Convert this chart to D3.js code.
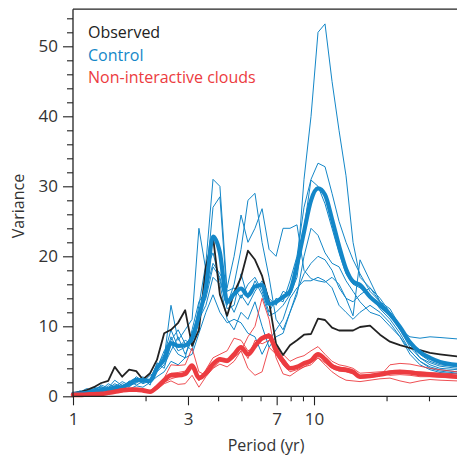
<!DOCTYPE html>
<html>
<head>
<meta charset="utf-8">
<script src="https://cdn.jsdelivr.net/npm/d3@7/dist/d3.min.js"></script>
<style>
  body { margin: 0; background: #fff; }
  text { font-family: "Open Sans", "Noto Sans", sans-serif; }
</style>
</head>
<body>
<div id="chart"></div>
<script>
// period grid (yr)
var periods = [1.00, 1.07, 1.14, 1.22, 1.31, 1.40, 1.49, 1.60, 1.71, 1.83, 1.95, 2.09, 2.23, 2.39, 2.55, 2.73,
  2.92, 3.12, 3.33, 3.56, 3.81, 4.07, 4.36, 4.66, 4.98, 5.32, 5.69, 6.09, 6.51, 6.96, 7.44, 7.95, 8.50, 9.09,
  9.72, 10.39, 11.11, 11.88, 12.70, 13.58, 14.52, 15.52, 17.08, 18.79, 20.67, 22.74, 25.02, 27.53, 30.29, 33.32, 39.22];

var observed = [0.5, 0.6, 0.9, 1.3, 1.9, 2.2, 4.2, 2.8, 3.8, 3.6, 2.4, 3.3, 5.2, 9.0, 9.5, 10.5,
  12.3, 7.2, 9.5, 18.5, 22.8, 14.5, 11.5, 14.8, 17.0, 20.8, 19.5, 17.2, 13.5, 7.5, 5.9, 7.3, 8.0, 8.8,
  8.9, 11.1, 10.9, 9.8, 9.4, 9.4, 9.4, 9.9, 10.1, 8.8, 7.8, 7.3, 6.9, 6.6, 6.2, 6.0, 5.7];

var controlMean = [0.3, 0.4, 0.5, 0.7, 0.9, 1.0, 1.2, 1.3, 1.8, 2.3, 2.3, 2.2, 4.0, 5.3, 7.6, 7.2,
  7.3, 8.3, 11.5, 15.5, 22.8, 20.5, 13.5, 14.6, 15.4, 14.4, 15.7, 15.9, 13.2, 13.5, 14.2, 15.0, 18.8, 23.5,
  28.0, 29.7, 28.8, 25.3, 21.5, 18.2, 16.4, 15.9, 14.2, 13.0, 11.7, 9.9, 7.7, 6.3, 5.5, 4.9, 4.5];

var control1 = [0.5, 0.7, 0.6, 1.0, 1.4, 0.9, 1.6, 1.2, 2.0, 2.6, 1.9, 2.5, 4.6, 5.0, 8.5, 6.5,
  7.0, 9.0, 12.0, 14.0, 18.5, 17.0, 12.5, 13.0, 17.5, 14.0, 16.5, 14.5, 11.5, 12.0, 13.0, 14.5, 18.0, 31.0,
  40.0, 52.0, 53.2, 45.0, 38.0, 31.5, 22.0, 17.0, 15.5, 13.5, 12.0, 9.5, 7.0, 5.5, 4.8, 4.3, 4.0];
var control2 = [0.3, 0.8, 0.5, 0.9, 0.7, 1.5, 1.0, 1.8, 1.4, 2.0, 2.8, 1.9, 4.2, 6.0, 9.5, 7.0,
  8.0, 7.5, 13.0, 19.0, 31.0, 30.0, 15.0, 15.5, 14.0, 16.0, 17.0, 15.0, 12.0, 14.0, 13.5, 16.5, 20.0, 27.0,
  31.0, 33.3, 32.8, 29.0, 25.0, 22.0, 19.5, 17.5, 15.0, 13.5, 12.5, 10.0, 7.5, 5.5, 4.5, 4.0, 3.8];
var control3 = [0.4, 0.5, 0.9, 0.6, 1.2, 0.8, 1.4, 1.0, 2.2, 1.6, 2.1, 3.0, 3.5, 4.5, 6.5, 8.5,
  6.0, 8.0, 10.5, 16.0, 27.0, 28.5, 14.0, 12.0, 14.5, 13.0, 15.0, 16.5, 14.0, 13.0, 15.0, 14.5, 17.0, 24.0,
  30.9, 30.0, 27.5, 24.0, 20.5, 17.5, 16.0, 15.5, 14.5, 12.5, 11.0, 9.0, 6.5, 5.0, 4.2, 3.8, 3.5];
var control4 = [0.3, 0.6, 1.1, 0.8, 1.6, 1.2, 2.3, 1.5, 1.3, 2.4, 1.8, 2.2, 3.8, 5.5, 13.0, 8.0,
  9.5, 11.0, 24.0, 18.0, 20.5, 16.5, 13.0, 16.0, 21.0, 28.0, 29.0, 22.0, 17.0, 11.0, 9.5, 12.0, 15.0, 17.5,
  19.0, 20.0, 19.5, 18.0, 15.5, 14.0, 13.5, 14.5, 15.5, 14.0, 12.0, 10.0, 8.0, 6.0, 5.0, 4.5, 4.2];
var control5 = [0.6, 0.4, 0.7, 1.3, 0.9, 1.8, 1.3, 2.1, 1.6, 1.9, 2.5, 1.6, 4.8, 4.0, 7.5, 6.0,
  5.5, 9.5, 13.5, 15.0, 19.0, 17.5, 15.5, 20.0, 25.9, 22.0, 24.0, 26.8, 21.0, 20.0, 24.0, 24.0, 24.5, 18.0,
  16.8, 16.5, 16.3, 17.0, 16.0, 14.0, 11.5, 19.5, 16.5, 13.5, 11.5, 9.5, 8.5, 8.3, 8.5, 8.4, 8.2];
var control6 = [0.2, 0.3, 0.4, 0.5, 1.0, 0.6, 0.9, 1.4, 1.0, 1.5, 1.3, 2.0, 2.8, 3.5, 5.0, 4.5,
  5.5, 6.0, 9.0, 12.0, 14.5, 12.0, 10.5, 11.0, 10.5, 9.0, 8.5, 6.0, 8.0, 9.5, 11.0, 14.0, 15.5, 16.5,
  16.5, 17.0, 16.5, 15.5, 13.0, 12.0, 11.0, 12.0, 13.0, 12.0, 10.5, 8.5, 6.5, 5.0, 4.0, 3.6, 3.3];
var control7 = [0.4, 0.6, 0.8, 1.1, 1.3, 1.1, 1.8, 1.3, 1.7, 2.8, 2.2, 2.4, 4.0, 6.5, 8.0, 9.5,
  7.5, 6.5, 11.0, 13.0, 17.0, 16.0, 11.0, 9.5, 12.0, 11.0, 13.5, 10.0, 7.0, 8.5, 9.0, 12.0, 14.5, 20.0,
  24.0, 23.0, 20.5, 19.0, 18.5, 16.5, 15.0, 13.5, 12.0, 11.5, 10.0, 8.5, 6.0, 4.5, 3.8, 3.4, 3.2];

var nicMean = [0.2, 0.2, 0.25, 0.3, 0.35, 0.5, 0.65, 0.85, 0.95, 0.95, 0.85, 0.65, 1.3, 2.3, 3.0, 3.0,
  3.2, 4.4, 2.6, 3.3, 4.6, 5.3, 5.1, 6.0, 7.0, 6.0, 7.2, 8.3, 8.6, 6.5, 5.0, 4.0, 4.2, 4.7,
  5.1, 6.0, 5.3, 4.3, 3.9, 3.8, 3.5, 2.8, 2.9, 3.1, 3.4, 3.5, 3.4, 3.2, 3.1, 3.0, 2.8];
var nic1 = [0.2, 0.2, 0.3, 0.3, 0.4, 0.6, 0.8, 1.0, 1.1, 1.0, 0.9, 0.8, 1.5, 2.6, 4.5, 4.4,
  4.5, 6.9, 3.5, 3.0, 4.0, 5.0, 4.8, 5.5, 6.5, 8.5, 10.0, 14.0, 11.0, 5.5, 3.2, 2.9, 3.6, 4.2,
  4.8, 5.5, 4.8, 4.0, 3.6, 3.5, 3.2, 2.6, 2.7, 2.9, 4.5, 4.7, 4.6, 4.3, 4.0, 3.8, 3.5];
var nic2 = [0.2, 0.3, 0.3, 0.4, 0.5, 0.6, 0.7, 0.9, 1.0, 1.1, 1.0, 0.7, 1.2, 2.0, 2.5, 2.8,
  3.0, 4.0, 2.2, 3.8, 5.5, 6.0, 6.5, 8.3, 8.0, 6.5, 7.0, 8.5, 9.0, 7.0, 6.0, 5.0, 5.5, 5.8,
  6.5, 7.1, 6.0, 5.0, 4.5, 4.3, 4.0, 3.3, 3.4, 3.5, 3.6, 3.7, 3.6, 3.5, 3.4, 3.3, 3.2];
var nic3 = [0.1, 0.2, 0.2, 0.2, 0.3, 0.4, 0.5, 0.7, 0.8, 0.8, 0.7, 0.5, 1.0, 1.8, 2.2, 1.7,
  1.8, 3.0, 1.3, 2.8, 4.0, 4.6, 4.2, 5.0, 6.5, 4.0, 3.0, 3.5, 7.0, 6.0, 4.5, 3.5, 3.8, 4.2,
  4.5, 5.5, 4.5, 3.5, 2.8, 2.3, 2.2, 2.1, 2.3, 2.5, 2.6, 2.2, 1.9, 2.2, 2.4, 2.3, 2.2];
var nic4 = [0.2, 0.2, 0.2, 0.3, 0.3, 0.4, 0.6, 0.8, 0.9, 0.9, 0.8, 0.6, 1.4, 2.5, 3.3, 3.4,
  3.6, 4.2, 2.9, 3.0, 4.5, 5.5, 5.0, 5.6, 7.2, 5.4, 8.0, 7.5, 8.0, 7.2, 5.5, 4.2, 4.0, 4.5,
  4.8, 5.7, 5.5, 4.5, 4.2, 4.0, 3.7, 3.0, 3.1, 3.3, 3.0, 3.1, 3.0, 2.8, 2.8, 2.7, 2.6];

var yMajor = [0, 10, 20, 30, 40, 50];
var yMinor = [2, 4, 6, 8, 12, 14, 16, 18, 22, 24, 26, 28, 32, 34, 36, 38, 42, 44, 46, 48, 52, 54];
var xMajor = [1, 3, 7, 10];
var xMinor = [2, 4, 5, 6, 8, 9, 20, 30];
var legendLabels = ["Observed", "Control", "Non-interactive clouds"];

var blue = "#1487c8", red = "#ec3b40", black = "#222";

var W = 457, H = 457;
var svg = d3.select("#chart").append("svg")
    .attr("width", W)
    .attr("height", H);

var x = d3.scaleLog()
    .domain([1, 40])
    .range([73, 73 + 241 * Math.log10(40)]);
var y = d3.scaleLinear()
    .domain([0, 55.3])
    .range([396.3, 9.2]);

var line = d3.line()
    .x(function(d, i) { return x(periods[i]); })
    .y(function(d) { return y(d); });
var smooth = d3.line()
    .x(function(d, i) { return x(periods[i]); })
    .y(function(d) { return y(d); })
    .curve(d3.curveMonotoneX);

var plot = svg.append("g");

function draw(data, color, width, gen) {
    plot.append("path")
        .datum(data)
        .attr("d", gen)
        .attr("fill", "none")
        .attr("stroke", color)
        .attr("stroke-width", width)
        .attr("stroke-linejoin", "round")
        .attr("stroke-linecap", "round");
}

[control1, control2, control3, control4, control5, control6, control7].forEach(function(s) {
    draw(s, blue, 1, line);
});
[nic1, nic2, nic3, nic4].forEach(function(s) {
    draw(s, red, 0.9, line);
});
draw(observed, black, 1.8, line);
draw(controlMean, blue, 4.2, smooth);
draw(nicMean, red, 4.6, smooth);

// axes
var yAxis = svg.append("g")
    .attr("transform", "translate(73,0)")
    .call(d3.axisLeft(y).tickValues(yMajor).tickSize(10).tickPadding(5).tickSizeOuter(0));
svg.append("g")
    .attr("transform", "translate(73,0)")
    .call(d3.axisLeft(y).tickValues(yMinor).tickSize(6).tickFormat("").tickSizeOuter(0))
    .select(".domain").remove();

var xAxis = svg.append("g")
    .attr("transform", "translate(0,396.3)")
    .call(d3.axisBottom(x).tickValues(xMajor).tickSize(9).tickPadding(8)
        .tickFormat(d3.format("d")).tickSizeOuter(0));
svg.append("g")
    .attr("transform", "translate(0,396.3)")
    .call(d3.axisBottom(x).tickValues(xMinor).tickSize(5).tickFormat("").tickSizeOuter(0))
    .select(".domain").remove();

svg.selectAll(".domain")
    .attr("stroke", black)
    .attr("stroke-width", 1.3);
svg.selectAll(".tick line")
    .attr("stroke", black)
    .attr("stroke-width", 1.1);
svg.selectAll(".tick text")
    .attr("fill", "#333")
    .style("font-size", "17px")
    .style("font-family", "'Open Sans', sans-serif");

// x domain line extends to the right edge, top frame line
xAxis.select(".domain").attr("d", "M73,0H" + W);
yAxis.select(".domain").attr("d", "M0," + y(55.3) + "V" + y(0));
svg.append("line")
    .attr("x1", 73).attr("x2", W)
    .attr("y1", y(55.3)).attr("y2", y(55.3))
    .attr("stroke", black)
    .attr("stroke-width", 1.3);

// axis titles
svg.append("text")
    .attr("x", 266)
    .attr("y", 451)
    .attr("text-anchor", "middle")
    .attr("fill", "#333")
    .style("font-size", "16px")
    .text("Period (yr)");
svg.append("text")
    .attr("transform", "translate(24,206) rotate(-90)")
    .attr("text-anchor", "middle")
    .attr("fill", "#333")
    .style("font-size", "16px")
    .text("Variance");

// legend
var legendColors = [black, blue, red];
svg.selectAll(".legend")
    .data(legendLabels)
    .enter().append("text")
    .attr("class", "legend")
    .attr("x", 88)
    .attr("y", function(d, i) { return 38 + i * 22.5; })
    .attr("fill", function(d, i) { return legendColors[i]; })
    .style("font-size", "16px")
    .text(function(d) { return d; });
</script>
</body>
</html>
